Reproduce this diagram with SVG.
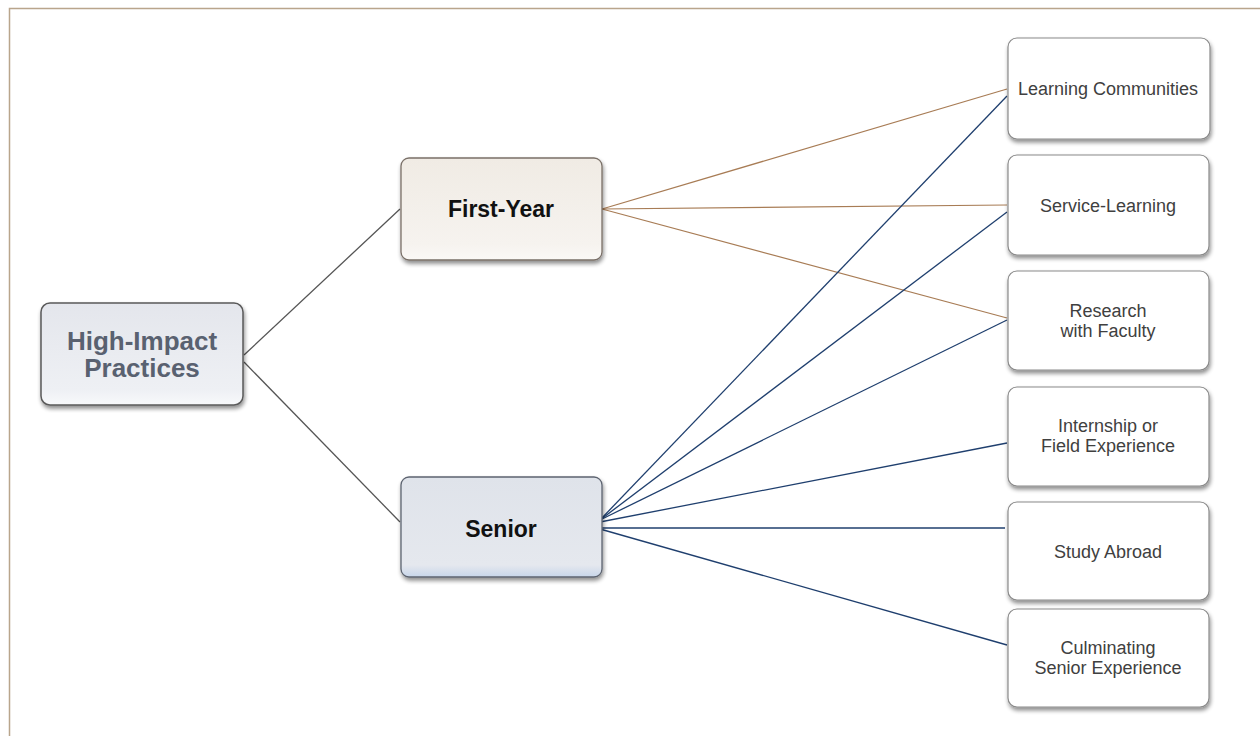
<svg xmlns="http://www.w3.org/2000/svg" width="1260" height="736" viewBox="0 0 1260 736">
<defs>
<style>
.t{font-family:"Liberation Sans",Arial,sans-serif;text-anchor:middle}
.leaf{fill:#fff;stroke:#8a8a8a;stroke-width:1.2;filter:url(#sh)}
.lt{font-size:18px;fill:#404040}
.cg{stroke:#555;stroke-width:1.3;fill:none}
.cb{stroke:#a87c55;stroke-width:1.2;fill:none}
.cn{stroke:#1f3f6e;stroke-width:1.3;fill:none}
</style>
<filter id="sh" x="-10%" y="-10%" width="125%" height="130%">
<feGaussianBlur in="SourceAlpha" stdDeviation="2"/>
<feOffset dx="1" dy="3" result="b"/>
<feComponentTransfer><feFuncA type="linear" slope="0.45"/></feComponentTransfer>
<feMerge><feMergeNode/><feMergeNode in="SourceGraphic"/></feMerge>
</filter>
<linearGradient id="gh" x1="0" y1="0" x2="0" y2="1">
<stop offset="0" stop-color="#e4e6ec"/><stop offset="0.85" stop-color="#eef0f4"/><stop offset="1" stop-color="#f8f9fb"/>
</linearGradient>
<linearGradient id="gf" x1="0" y1="0" x2="0" y2="1">
<stop offset="0" stop-color="#f0ebe4"/><stop offset="0.85" stop-color="#f6f3ef"/><stop offset="1" stop-color="#fbf9f6"/>
</linearGradient>
<linearGradient id="gs" x1="0" y1="0" x2="0" y2="1">
<stop offset="0" stop-color="#dfe3ea"/><stop offset="0.88" stop-color="#e5e8ee"/><stop offset="1" stop-color="#c7d6ea"/>
</linearGradient>
</defs>
<rect width="1260" height="736" fill="#fff"/>
<path d="M9.5 736 V8.5 H1260" fill="none" stroke="#b9a58c" stroke-width="1.5"/>
<g id="connectors">
<path class="cg" d="M244 355 L400 209"/>
<path class="cg" d="M244 362 L400 522"/>
<path class="cb" d="M602 209 L1007 89"/>
<path class="cb" d="M602 209 L1007 205"/>
<path class="cb" d="M602 209 L1007 318"/>
<path class="cn" d="M600 520 L1007 96"/>
<path class="cn" d="M600 520 L1007 212"/>
<path class="cn" d="M600 520 L1007 320"/>
<path class="cn" d="M600 522 L1007 443"/>
<path class="cn" d="M600 528 L1005 528"/>
<path class="cn" d="M600 529 L1007 645"/>
</g>
<g id="hip">
<rect x="41" y="303" width="202" height="102" rx="9" fill="url(#gh)" stroke="#5a5a5a" stroke-width="1.5" filter="url(#sh)"/>
<text class="t" x="142" y="350" font-size="26" font-weight="bold" fill="#596170">High-Impact</text>
<text class="t" x="142" y="377" font-size="26" font-weight="bold" fill="#596170">Practices</text>
</g>
<g id="first-year">
<rect x="401" y="158" width="201" height="102" rx="8" fill="url(#gf)" stroke="#7a7068" stroke-width="1.3" filter="url(#sh)"/>
<text class="t" x="501" y="217" font-size="23" font-weight="bold" fill="#111">First-Year</text>
</g>
<g id="senior">
<rect x="401" y="477" width="201" height="100" rx="8" fill="url(#gs)" stroke="#5d6470" stroke-width="1.3" filter="url(#sh)"/>
<text class="t" x="501" y="537" font-size="23" font-weight="bold" fill="#111">Senior</text>
</g>
<g id="learning-communities">
<rect class="leaf" x="1008" y="38" width="202" height="101" rx="9"/>
<text class="t lt" x="1108" y="95">Learning Communities</text>
</g>
<g id="service-learning">
<rect class="leaf" x="1008" y="155" width="201" height="100" rx="9"/>
<text class="t lt" x="1108" y="211.5">Service-Learning</text>
</g>
<g id="research">
<rect class="leaf" x="1008" y="271" width="201" height="99" rx="9"/>
<text class="t lt" x="1108" y="316.5">Research</text>
<text class="t lt" x="1108" y="336.5">with Faculty</text>
</g>
<g id="internship">
<rect class="leaf" x="1008" y="387" width="201" height="99" rx="9"/>
<text class="t lt" x="1108" y="432">Internship or</text>
<text class="t lt" x="1108" y="452">Field Experience</text>
</g>
<g id="study-abroad">
<rect class="leaf" x="1008" y="502" width="201" height="98" rx="9"/>
<text class="t lt" x="1108" y="557.5">Study Abroad</text>
</g>
<g id="culminating">
<rect class="leaf" x="1008" y="609" width="201" height="98" rx="9"/>
<text class="t lt" x="1108" y="654">Culminating</text>
<text class="t lt" x="1108" y="674">Senior Experience</text>
</g>
</svg>
